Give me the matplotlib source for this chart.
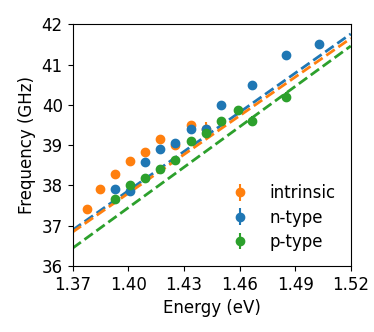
import numpy as np
import matplotlib
matplotlib.use('Agg')
import matplotlib.pyplot as plt

# Measured points (energy in eV, frequency in GHz)
intrinsic_E = [1.378, 1.385, 1.393, 1.401, 1.409, 1.417, 1.425, 1.434, 1.442]
intrinsic_f = [37.41, 37.91, 38.29, 38.61, 38.82, 39.15, 39.00, 39.49, 39.40]
intrinsic_err = [0.05, 0.05, 0.05, 0.05, 0.05, 0.05, 0.05, 0.08, 0.17]

ntype_E = [1.393, 1.401, 1.409, 1.417, 1.425, 1.434, 1.442, 1.450, 1.467, 1.485, 1.503]
ntype_f = [37.92, 37.87, 38.57, 38.91, 39.05, 39.39, 39.39, 39.99, 40.48, 41.24, 41.52]
ntype_err = [0.05, 0.05, 0.05, 0.05, 0.05, 0.05, 0.08, 0.05, 0.05, 0.05, 0.05]

ptype_E = [1.393, 1.401, 1.409, 1.417, 1.425, 1.434, 1.442, 1.450, 1.459, 1.467, 1.485]
ptype_f = [37.66, 38.02, 38.18, 38.41, 38.62, 39.11, 39.31, 39.60, 39.86, 39.61, 40.20]
ptype_err = [0.05, 0.05, 0.05, 0.05, 0.05, 0.05, 0.12, 0.05, 0.08, 0.10, 0.13]

# Linear fits: frequency at E = 1.37 and E = 1.52
fit_E = [1.37, 1.52]
intrinsic_fit = [36.84, 41.65]
ntype_fit = [36.89, 41.76]
ptype_fit = [36.44, 41.46]

x_ticks = [1.37, 1.40, 1.43, 1.46, 1.49, 1.52]
y_ticks = [36, 37, 38, 39, 40, 41, 42]

fig = plt.figure(figsize=(3.74, 3.32), dpi=100)
ax = fig.add_axes([0.194, 0.199, 0.744, 0.728])

ax.plot(fit_E, ntype_fit, '--', color='tab:blue', lw=2)
ax.plot(fit_E, intrinsic_fit, '--', color='tab:orange', lw=2)
ax.plot(fit_E, ptype_fit, '--', color='tab:green', lw=2)

ax.errorbar(intrinsic_E, intrinsic_f, yerr=intrinsic_err, fmt='o', color='tab:orange', ms=6, elinewidth=1.5, label='intrinsic')
ax.errorbar(ntype_E, ntype_f, yerr=ntype_err, fmt='o', color='tab:blue', ms=6, elinewidth=1.5, label='n-type')
ax.errorbar(ptype_E, ptype_f, yerr=ptype_err, fmt='o', color='tab:green', ms=6, elinewidth=1.5, label='p-type')

ax.set_xlim(1.37, 1.52)
ax.set_ylim(36, 42)
ax.set_xticks(x_ticks)
ax.set_xticklabels(['%.2f' % t for t in x_ticks])
ax.set_yticks(y_ticks)
ax.tick_params(labelsize=12)
ax.set_xlabel('Energy (eV)', fontsize=12)
ax.set_ylabel('Frequency (GHz)', fontsize=12)

ax.legend(loc='lower right', frameon=False, fontsize=12, labelspacing=0.38)

fig.savefig('out.png', dpi=100)
